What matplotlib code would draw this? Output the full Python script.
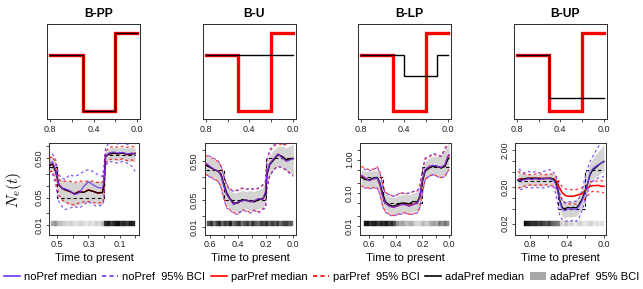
import matplotlib
matplotlib.use('Agg')
import matplotlib.pyplot as plt
import numpy as np
from matplotlib.lines import Line2D
from matplotlib.patches import Patch, Rectangle
from matplotlib.ticker import NullLocator

plt.rcParams['font.family'] = ['Liberation Sans', 'DejaVu Sans']
plt.rcParams['mathtext.fontset'] = 'cm'

PURPLE = '#7038F0'
RED = '#FF0000'
BAND = '#D4D4D4'
FRAME = '#333333'

titles = ['B-PP', 'B-U', 'B-LP', 'B-UP']

# true Ne(t): levels between change points (time to present)
truth_breaks = [0.5, 0.2]
truth_levels = [0.3, 0.05, 0.6]

# sampling intensity shape shown in the top row (black)
samp_breaks = [[0.5, 0.2], [], [0.4, 0.1], [0.5]]
samp_levels = [[0.3, 0.05, 0.6], [0.3], [0.3, 0.15, 0.3], [0.3, 0.075]]

# ---- B-PP ----
pp_t = [0.55, 0.53, 0.51, 0.50, 0.49, 0.47, 0.45, 0.42, 0.39, 0.36, 0.33, 0.30,
        0.27, 0.24, 0.21, 0.20, 0.19, 0.17, 0.14, 0.11, 0.08, 0.05, 0.02, 0.0]
pp_ada_med = [0.33, 0.35, 0.23, 0.156, 0.106, 0.087, 0.079, 0.072, 0.062, 0.070, 0.068, 0.077,
              0.072, 0.066, 0.066, 0.10, 0.55, 0.62, 0.66, 0.64, 0.67, 0.62, 0.64, 0.65]
pp_ada_lo = [0.21, 0.23, 0.13, 0.087, 0.054, 0.040, 0.037, 0.033, 0.030, 0.033, 0.037, 0.039,
             0.037, 0.034, 0.033, 0.040, 0.34, 0.45, 0.45, 0.43, 0.45, 0.41, 0.41, 0.40]
pp_ada_hi = [0.55, 0.55, 0.41, 0.25, 0.17, 0.14, 0.13, 0.13, 0.12, 0.13, 0.13, 0.14,
             0.13, 0.13, 0.13, 0.23, 0.81, 0.89, 0.93, 0.89, 0.95, 0.89, 0.93, 0.89]
pp_par_med = [0.33, 0.35, 0.23, 0.156, 0.106, 0.087, 0.079, 0.072, 0.062, 0.072, 0.068, 0.079,
              0.072, 0.065, 0.068, 0.106, 0.55, 0.63, 0.67, 0.64, 0.68, 0.61, 0.64, 0.66]
pp_par_lo = [0.23, 0.23, 0.14, 0.087, 0.059, 0.044, 0.040, 0.034, 0.033, 0.037, 0.039, 0.040,
             0.037, 0.037, 0.037, 0.049, 0.37, 0.45, 0.48, 0.45, 0.48, 0.43, 0.45, 0.41]
pp_par_hi = [0.50, 0.55, 0.37, 0.23, 0.14, 0.13, 0.13, 0.13, 0.12, 0.13, 0.13, 0.13,
             0.13, 0.12, 0.12, 0.23, 0.74, 0.89, 0.99, 0.93, 0.99, 0.93, 0.99, 0.93]
pp_no_med = [0.37, 0.40, 0.25, 0.156, 0.106, 0.087, 0.084, 0.075, 0.060, 0.065, 0.096, 0.125,
             0.106, 0.090, 0.087, 0.125, 0.55, 0.67, 0.71, 0.67, 0.69, 0.63, 0.67, 0.63]
pp_no_lo = [0.19, 0.197, 0.106, 0.065, 0.040, 0.030, 0.025, 0.027, 0.030, 0.027, 0.033, 0.040,
            0.033, 0.030, 0.033, 0.044, 0.31, 0.41, 0.40, 0.37, 0.41, 0.37, 0.31, 0.23]
pp_no_hi = [0.61, 0.63, 0.454, 0.28, 0.19, 0.156, 0.142, 0.19, 0.172, 0.19, 0.23, 0.254,
            0.23, 0.19, 0.172, 0.28, 0.89, 1.20, 1.27, 1.13, 1.20, 1.09, 1.32, 1.20]
pp_strip = [0.35, 0.45, 0.3, 0.25, 0.2, 0.15, 0.2, 0.15, 0.12, 0.18, 0.15, 0.1, 0.15, 0.12,
            0.2, 0.15, 0.25, 0.85, 0.95, 0.8, 0.9, 1.0, 0.85, 0.9, 0.8, 0.95, 0.9]
pp_strip_start, pp_strip_step = 0.54, 0.02

# ---- B-U ----
u_t = [0.63, 0.60, 0.57, 0.54, 0.52, 0.50, 0.48, 0.46, 0.43, 0.40, 0.37, 0.34, 0.31,
       0.28, 0.25, 0.22, 0.20, 0.19, 0.17, 0.14, 0.11, 0.08, 0.05, 0.02, 0.0]
u_ada_med = [0.39, 0.35, 0.305, 0.276, 0.227, 0.125, 0.077, 0.057, 0.042, 0.042, 0.0515, 0.049, 0.047,
             0.045, 0.0515, 0.055, 0.069, 0.227, 0.41, 0.55, 0.74, 0.67, 0.55, 0.59, 0.59]
u_ada_lo = [0.227, 0.206, 0.186, 0.153, 0.114, 0.063, 0.038, 0.031, 0.026, 0.025, 0.0285, 0.030, 0.027,
            0.0285, 0.030, 0.033, 0.038, 0.125, 0.206, 0.305, 0.41, 0.34, 0.276, 0.25, 0.227]
u_ada_hi = [0.67, 0.61, 0.55, 0.48, 0.37, 0.206, 0.125, 0.093, 0.077, 0.081, 0.088, 0.084, 0.088,
            0.084, 0.093, 0.103, 0.153, 0.50, 0.74, 1.0, 1.22, 1.22, 1.10, 1.29, 1.34]
u_par_med = [0.42, 0.36, 0.30, 0.28, 0.22, 0.12, 0.073, 0.056, 0.040, 0.043, 0.049, 0.050, 0.046,
             0.047, 0.053, 0.053, 0.075, 0.24, 0.42, 0.57, 0.76, 0.64, 0.52, 0.57, 0.59]
u_par_lo = [0.23, 0.20, 0.175, 0.15, 0.108, 0.055, 0.033, 0.029, 0.024, 0.022, 0.028, 0.027, 0.024,
            0.028, 0.025, 0.030, 0.034, 0.11, 0.21, 0.31, 0.38, 0.33, 0.30, 0.24, 0.22]
u_par_hi = [0.70, 0.64, 0.57, 0.49, 0.37, 0.21, 0.13, 0.097, 0.088, 0.09, 0.10, 0.095, 0.10,
            0.095, 0.10, 0.12, 0.15, 0.52, 0.9, 1.2, 1.45, 1.3, 1.35, 1.5, 1.6]
u_no_med = [0.45, 0.37, 0.305, 0.276, 0.206, 0.114, 0.069, 0.055, 0.038, 0.045, 0.047, 0.0515, 0.045,
            0.0486, 0.055, 0.0515, 0.084, 0.25, 0.43, 0.59, 0.77, 0.61, 0.50, 0.55, 0.59]
u_no_lo = [0.227, 0.194, 0.169, 0.147, 0.103, 0.0515, 0.031, 0.0285, 0.023, 0.021, 0.027, 0.026, 0.023,
           0.027, 0.023, 0.0285, 0.031, 0.103, 0.206, 0.305, 0.37, 0.34, 0.305, 0.227, 0.206]
u_no_hi = [0.74, 0.67, 0.59, 0.50, 0.37, 0.206, 0.125, 0.093, 0.084, 0.088, 0.103, 0.093, 0.103,
           0.093, 0.103, 0.125, 0.153, 0.55, 1.0, 1.34, 1.57, 1.34, 1.48, 1.64, 1.81]
u_strip = [0.7, 0.85, 0.6, 0.75, 0.9, 0.65, 0.8, 0.7, 0.95, 0.6, 0.75, 0.85, 0.55, 0.7, 0.8, 0.65,
           0.9, 0.7, 0.6, 0.8, 0.75, 0.9, 0.65, 0.8, 0.7, 0.85, 0.6, 0.75, 0.8, 0.7, 0.65]
u_strip_start, u_strip_step = 0.62, 0.02

# ---- B-LP ----
lp_t = [0.66, 0.63, 0.60, 0.57, 0.54, 0.52, 0.50, 0.48, 0.45, 0.42, 0.39, 0.36, 0.33,
        0.30, 0.27, 0.24, 0.22, 0.20, 0.18, 0.15, 0.12, 0.09, 0.06, 0.03, 0.01, 0.0]
lp_ada_med = [0.295, 0.251, 0.251, 0.282, 0.295, 0.20, 0.10, 0.056, 0.0447, 0.040, 0.0447, 0.050, 0.050,
              0.047, 0.056, 0.054, 0.079, 0.224, 0.447, 0.56, 0.63, 0.63, 0.56, 0.63, 1.0, 1.12]
lp_ada_lo = [0.178, 0.158, 0.148, 0.158, 0.158, 0.10, 0.050, 0.0316, 0.0251, 0.0224, 0.0234, 0.0269, 0.0269,
             0.0251, 0.0282, 0.030, 0.040, 0.112, 0.251, 0.316, 0.355, 0.339, 0.316, 0.355, 0.447, 0.50]
lp_ada_hi = [0.50, 0.447, 0.447, 0.468, 0.50, 0.355, 0.178, 0.10, 0.079, 0.074, 0.079, 0.089, 0.093,
             0.089, 0.10, 0.112, 0.158, 0.447, 0.89, 1.12, 1.26, 1.26, 1.41, 2.0, 2.82, 3.16]
lp_par_med = [0.33, 0.28, 0.24, 0.27, 0.28, 0.18, 0.085, 0.052, 0.041, 0.038, 0.041, 0.046, 0.046,
              0.042, 0.046, 0.050, 0.075, 0.24, 0.48, 0.62, 0.66, 0.63, 0.58, 0.68, 1.2, 1.35]
lp_par_lo = [0.165, 0.145, 0.14, 0.145, 0.145, 0.092, 0.043, 0.028, 0.023, 0.021, 0.023, 0.024, 0.026,
             0.023, 0.024, 0.026, 0.037, 0.105, 0.26, 0.32, 0.36, 0.32, 0.29, 0.32, 0.45, 0.50]
lp_par_hi = [0.63, 0.55, 0.50, 0.52, 0.60, 0.42, 0.19, 0.105, 0.09, 0.08, 0.088, 0.10, 0.095,
             0.10, 0.11, 0.115, 0.16, 0.48, 1.05, 1.2, 1.45, 1.35, 1.25, 2.0, 3.0, 3.6]
lp_no_med = [0.339, 0.282, 0.234, 0.269, 0.282, 0.178, 0.079, 0.050, 0.040, 0.0372, 0.040, 0.0447, 0.0447,
             0.040, 0.0447, 0.050, 0.074, 0.251, 0.50, 0.63, 0.676, 0.63, 0.59, 0.71, 1.26, 1.41]
lp_no_lo = [0.158, 0.141, 0.135, 0.141, 0.141, 0.089, 0.040, 0.0269, 0.0224, 0.020, 0.0224, 0.0234, 0.0251,
            0.0224, 0.0234, 0.0251, 0.0355, 0.10, 0.251, 0.316, 0.355, 0.316, 0.282, 0.316, 0.447, 0.50]
lp_no_hi = [0.59, 0.50, 0.468, 0.50, 0.59, 0.40, 0.178, 0.10, 0.089, 0.079, 0.089, 0.107, 0.093,
            0.10, 0.112, 0.112, 0.158, 0.50, 1.12, 1.26, 1.58, 1.41, 1.26, 2.24, 3.55, 4.47]
lp_strip = [0.95, 1.0, 0.85, 0.9, 0.95, 0.8, 0.9, 0.85, 0.95, 0.8, 0.9, 0.75, 0.45, 0.35, 0.4, 0.3,
            0.25, 0.35, 0.3, 0.2, 0.15, 0.2, 0.3, 0.2, 0.25, 0.35, 0.4, 0.3, 0.55, 0.45, 0.6, 0.5]
lp_strip_start, lp_strip_step = 0.64, 0.02

# ---- B-UP ----
up_t = [0.93, 0.90, 0.86, 0.82, 0.78, 0.74, 0.70, 0.66, 0.62, 0.58, 0.54, 0.52, 0.50, 0.48, 0.45,
        0.42, 0.39, 0.36, 0.33, 0.30, 0.27, 0.24, 0.21, 0.18, 0.15, 0.12, 0.09, 0.06, 0.03, 0.0]
up_ada_med = [0.30, 0.319, 0.34, 0.354, 0.34, 0.354, 0.333, 0.34, 0.34, 0.354, 0.319, 0.259, 0.17, 0.0906, 0.0536,
              0.0514, 0.056, 0.0536, 0.056, 0.0536, 0.066, 0.0906, 0.138, 0.233, 0.437, 0.60, 0.67, 0.79, 0.91, 1.01]
up_ada_lo = [0.17, 0.189, 0.21, 0.223, 0.21, 0.223, 0.21, 0.21, 0.223, 0.233, 0.21, 0.153, 0.0906, 0.0483, 0.0317,
             0.0286, 0.0317, 0.0298, 0.0317, 0.0317, 0.0391, 0.0536, 0.0816, 0.138, 0.233, 0.319, 0.37, 0.419, 0.485, 0.54]
up_ada_hi = [0.54, 0.485, 0.456, 0.456, 0.437, 0.456, 0.437, 0.456, 0.456, 0.485, 0.437, 0.37, 0.287, 0.153, 0.0906,
             0.0816, 0.085, 0.0816, 0.085, 0.0906, 0.112, 0.189, 0.319, 0.54, 0.91, 1.25, 1.54, 1.90, 2.34, 2.88]
up_par_med = [0.319, 0.34, 0.319, 0.34, 0.354, 0.34, 0.354, 0.34, 0.354, 0.34, 0.333, 0.30, 0.233, 0.189, 0.138,
              0.119, 0.112, 0.112, 0.112, 0.119, 0.124, 0.129, 0.153, 0.189, 0.21, 0.219, 0.219, 0.223, 0.21, 0.21]
up_par_lo = [0.189, 0.197, 0.21, 0.223, 0.233, 0.223, 0.233, 0.223, 0.233, 0.223, 0.21, 0.189, 0.153, 0.124, 0.0906,
             0.0734, 0.069, 0.069, 0.069, 0.069, 0.0734, 0.078, 0.0906, 0.112, 0.138, 0.153, 0.153, 0.147, 0.147, 0.138]
up_par_hi = [0.54, 0.485, 0.456, 0.437, 0.437, 0.456, 0.456, 0.437, 0.437, 0.456, 0.437, 0.393, 0.354, 0.259, 0.197,
             0.181, 0.17, 0.17, 0.17, 0.17, 0.181, 0.189, 0.21, 0.233, 0.275, 0.287, 0.287, 0.30, 0.30, 0.287]
up_no_med = [0.319, 0.30, 0.319, 0.34, 0.319, 0.34, 0.319, 0.354, 0.34, 0.34, 0.30, 0.233, 0.153, 0.0816, 0.0483,
             0.0453, 0.0514, 0.0483, 0.0514, 0.0483, 0.0596, 0.0816, 0.124, 0.233, 0.485, 0.64, 0.74, 0.82, 0.91, 0.97]
up_no_lo = [0.153, 0.17, 0.189, 0.197, 0.189, 0.197, 0.189, 0.189, 0.197, 0.21, 0.197, 0.124, 0.066, 0.0352, 0.0257,
            0.0232, 0.0241, 0.0232, 0.0257, 0.0232, 0.0286, 0.0435, 0.0734, 0.138, 0.233, 0.287, 0.319, 0.354, 0.37, 0.393]
up_no_hi = [0.74, 0.54, 0.485, 0.54, 0.485, 0.54, 0.485, 0.54, 0.56, 0.60, 0.485, 0.393, 0.287, 0.138, 0.0816,
            0.0734, 0.0816, 0.078, 0.0816, 0.0816, 0.1007, 0.153, 0.319, 0.60, 1.01, 1.39, 1.90, 2.60, 3.21, 3.95]
up_strip = [1.0, 0.95, 0.9, 0.85, 0.9, 0.8, 0.85, 0.75, 0.7, 0.8, 0.65, 0.6, 0.55, 0.2, 0.15, 0.25, 0.15,
            0.2, 0.1, 0.15, 0.2, 0.12, 0.1, 0.15, 0.2, 0.1, 0.15, 0.1, 0.12]
up_strip_start, up_strip_step = 0.87, 0.03

# axis setup per panel (bottom row)
bottom_xlims = [(0.553, -0.025), (0.64, -0.016), (0.674, -0.011), (0.962, -0.022)]
bottom_ylims = [(0.00585, 1.2), (0.0065, 1.48), (0.0057, 3.17), (0.0101, 3.2)]
bottom_xticks = [[0.5, 0.4, 0.3, 0.2, 0.1, 0.0], [0.6, 0.5, 0.4, 0.3, 0.2, 0.1, 0.0],
                 [0.6, 0.5, 0.4, 0.3, 0.2, 0.1, 0.0], [0.8, 0.6, 0.4, 0.2, 0.0]]
bottom_xlabels = [['0.5', '', '0.3', '', '0.1', ''], ['0.6', '', '0.4', '', '0.2', '', '0.0'],
                  ['0.6', '', '0.4', '', '0.2', '', '0.0'], ['0.8', '', '0.4', '', '0.0']]
bottom_yticks = [[0.01, 0.02, 0.05, 0.1, 0.2, 0.5, 1.0], [0.01, 0.02, 0.05, 0.1, 0.2, 0.5, 1.0],
                 [0.01, 0.02, 0.05, 0.1, 0.2, 0.5, 1.0, 2.0], [0.02, 0.05, 0.1, 0.2, 0.5, 1.0, 2.0]]
bottom_ylabels = [['0.01', '', '0.05', '', '', '0.50', ''], ['0.01', '', '0.05', '', '', '0.50', ''],
                  ['0.01', '', '', '0.10', '', '', '1.00', ''], ['0.02', '', '', '0.20', '', '', '2.00']]

panels = [
    dict(t=pp_t, ada_med=pp_ada_med, ada_lo=pp_ada_lo, ada_hi=pp_ada_hi, par_med=pp_par_med,
         par_lo=pp_par_lo, par_hi=pp_par_hi, no_med=pp_no_med, no_lo=pp_no_lo, no_hi=pp_no_hi,
         strip=pp_strip, strip_start=pp_strip_start, strip_step=pp_strip_step),
    dict(t=u_t, ada_med=u_ada_med, ada_lo=u_ada_lo, ada_hi=u_ada_hi, par_med=u_par_med,
         par_lo=u_par_lo, par_hi=u_par_hi, no_med=u_no_med, no_lo=u_no_lo, no_hi=u_no_hi,
         strip=u_strip, strip_start=u_strip_start, strip_step=u_strip_step),
    dict(t=lp_t, ada_med=lp_ada_med, ada_lo=lp_ada_lo, ada_hi=lp_ada_hi, par_med=lp_par_med,
         par_lo=lp_par_lo, par_hi=lp_par_hi, no_med=lp_no_med, no_lo=lp_no_lo, no_hi=lp_no_hi,
         strip=lp_strip, strip_start=lp_strip_start, strip_step=lp_strip_step),
    dict(t=up_t, ada_med=up_ada_med, ada_lo=up_ada_lo, ada_hi=up_ada_hi, par_med=up_par_med,
         par_lo=up_par_lo, par_hi=up_par_hi, no_med=up_no_med, no_lo=up_no_lo, no_hi=up_no_hi,
         strip=up_strip, strip_start=up_strip_start, strip_step=up_strip_step),
]


def steps(breaks, levels, start, end):
    xs, ys = [start], [levels[0]]
    for b, lo, hi in zip(breaks, levels[:-1], levels[1:]):
        xs += [b, b]
        ys += [lo, hi]
    xs.append(end)
    ys.append(levels[-1])
    return xs, ys


def style_frame(ax):
    for sp in ax.spines.values():
        sp.set_color(FRAME)
        sp.set_linewidth(0.75)
    ax.tick_params(direction='out', length=2.5, width=0.6, color=FRAME,
                   labelsize=6.5, pad=1.5, labelcolor='#222222')


W, H = 643, 289
fig = plt.figure(figsize=(W / 100, H / 100), dpi=100)

top_left = [47.3, 203, 358, 514]
bot_left = [49, 204.5, 359.5, 515]
bot_width = [90, 91, 91, 91]

for i in range(4):
    # top row: schematic of Ne and sampling intensity
    ax = fig.add_axes([top_left[i] / W, 1 - 119 / H, 93 / W, 94.7 / H])
    xs, ys = steps(truth_breaks, truth_levels, 0.8, 0.0)
    ax.plot(xs, ys, color=RED, lw=2.4, solid_joinstyle='miter')
    xs, ys = steps(samp_breaks[i], samp_levels[i], 0.8, 0.0)
    ax.plot(xs, ys, color='black', lw=1.0, solid_joinstyle='miter')
    ax.set_yscale('log')
    ax.set_ylim(0.0388, 0.785)
    ax.set_xlim(0.825, -0.028)
    ax.set_yticks([])
    ax.yaxis.set_minor_locator(NullLocator())
    ax.set_xticks([0.8, 0.6, 0.4, 0.2, 0.0])
    ax.set_xticklabels(['0.8', '', '0.4', '', '0.0'])
    style_frame(ax)
    ax.set_title(titles[i], fontsize=8.7, fontweight='bold', x=0.548, pad=5)

    # bottom row: posterior summaries
    p = panels[i]
    ax = fig.add_axes([bot_left[i] / W, 1 - 234.5 / H, bot_width[i] / W, 91.5 / H])
    t = np.array(p['t'])
    ax.fill_between(t, p['ada_lo'], p['ada_hi'], color=BAND, lw=0, zorder=1)
    xf = ax.get_xaxis_transform()
    for k, v in enumerate(p['strip']):
        x0 = p['strip_start'] - (k + 1) * p['strip_step']
        g = 1 - 0.95 * v
        ax.add_patch(Rectangle((x0, 0.097), p['strip_step'], 0.048, transform=xf,
                               facecolor=(g, g, g), edgecolor=(g, g, g), lw=0.3, zorder=2))
    xs, ys = steps(truth_breaks, truth_levels, t[0], t[-1])
    ax.plot(xs, ys, color='black', lw=0.8, ls=(0, (3, 2.5)), zorder=3)
    for key in ('par_lo', 'par_hi'):
        ax.plot(t, p[key], color=RED, lw=0.9, ls=(0, (2.2, 2.2)), alpha=0.8, zorder=4)
    for key in ('no_lo', 'no_hi'):
        ax.plot(t, p[key], color=PURPLE, lw=0.9, ls=(2.2, (2.2, 2.2)), alpha=0.85, zorder=4)
    ax.plot(t, p['par_med'], color=RED, lw=1.15, zorder=5)
    ax.plot(t, p['ada_med'], color='black', lw=0.9, zorder=6)
    ax.plot(t, p['no_med'], color=PURPLE, lw=0.9, alpha=0.9, zorder=7)
    ax.set_yscale('log')
    ax.set_xlim(*bottom_xlims[i])
    ax.set_ylim(*bottom_ylims[i])
    ax.set_xticks(bottom_xticks[i])
    ax.set_xticklabels(bottom_xlabels[i])
    ax.set_yticks(bottom_yticks[i])
    ax.set_yticklabels(bottom_ylabels[i])
    ax.yaxis.set_minor_locator(NullLocator())
    style_frame(ax)
    for lab in ax.get_yticklabels():
        lab.set_rotation(90)
        lab.set_va('center')
    ax.set_xlabel('Time to present', fontsize=8.2, labelpad=2.5)

fig.text(13.5 / W, 1 - 190 / H, r'$N_e(t)$', rotation=90, fontsize=11,
         ha='center', va='center')

handles = [Line2D([], [], color=PURPLE, lw=1.2),
           Line2D([], [], color=PURPLE, lw=1.2, ls=(0, (2.5, 2))),
           Line2D([], [], color=RED, lw=1.2),
           Line2D([], [], color=RED, lw=1.2, ls=(0, (2.5, 2))),
           Line2D([], [], color='black', lw=1.2),
           Patch(facecolor='#A8A8A8', edgecolor='none')]
labels = ['noPref median', 'noPref  95% BCI', 'parPref median',
          'parPref  95% BCI', 'adaPref median', 'adaPref  95% BCI']
fig.legend(handles, labels, loc='center', bbox_to_anchor=(0.5, 1 - 277 / H), ncol=6,
           frameon=False, fontsize=8, handlelength=1.45, handletextpad=0.35,
           columnspacing=0.5, borderaxespad=0, borderpad=0)

fig.savefig('out.png', dpi=100)
